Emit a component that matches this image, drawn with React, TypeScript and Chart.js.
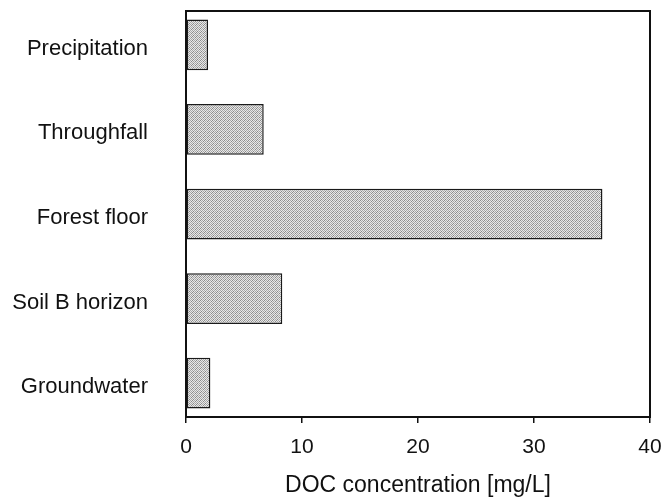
import React, { useEffect, useRef } from "react";
import { Chart, registerables } from "chart.js";

Chart.register(...registerables);

const categories = ["Precipitation", "Throughfall", "Forest floor", "Soil B horizon", "Groundwater"];
const docValues = [1.9, 6.7, 35.9, 8.3, 2.1];
const xTicks = [0, 10, 20, 30, 40];
const xTitle = "DOC concentration [mg/L]";

const FONT = "'Liberation Sans', Arial, Helvetica, sans-serif";

function makePattern(): CanvasPattern | string {
  const c = document.createElement("canvas");
  c.width = 4;
  c.height = 4;
  const g = c.getContext("2d");
  if (!g) return "#c4c4c4";
  g.fillStyle = "#e8e8e8";
  g.fillRect(0, 0, 4, 4);
  const dots = [[0, 0], [2, 0], [1, 1], [3, 1], [0, 2], [2, 2], [1, 3], [3, 3]];
  dots.forEach(([x, y], k) => {
    g.fillStyle = k % 3 === 0 ? "#8a8a8a" : "#a8a8a8";
    g.fillRect(x, y, 1, 1);
  });
  const p = g.createPattern(c, "repeat");
  return p || "#c4c4c4";
}

const framePlugin = {
  id: "frame",
  afterDatasetsDraw(chart: any) {
    const { ctx, chartArea } = chart;
    ctx.save();
    ctx.strokeStyle = "#111";
    ctx.lineWidth = 2;
    ctx.strokeRect(chartArea.left, chartArea.top, chartArea.right - chartArea.left, chartArea.bottom - chartArea.top);
    ctx.restore();
  },
};

const Y_MIN = -0.4;
const Y_MAX = 4.4;

export default function App() {
  const ref = useRef<HTMLCanvasElement | null>(null);

  useEffect(() => {
    if (!ref.current) return;
    const pattern = makePattern();
    const chart = new Chart(ref.current, {
      type: "bar",
      data: {
        datasets: [
          {
            data: docValues.map((v, i) => ({ x: v, y: i })),
            backgroundColor: pattern as any,
            borderColor: "#1a1a1a",
            borderWidth: 1.5,
            borderSkipped: false,
            barPercentage: 0.6,
            categoryPercentage: 1,
          },
        ],
      },
      options: {
        indexAxis: "y",
        animation: false,
        responsive: false,
        devicePixelRatio: 1,
        layout: { padding: { top: 11, right: 15, left: 0, bottom: 0 } },
        plugins: { legend: { display: false }, tooltip: { enabled: false } },
        scales: {
          x: {
            type: "linear",
            position: "bottom",
            min: 0,
            max: 40,
            bounds: "data",
            afterBuildTicks: (scale: any) => {
              scale.ticks = xTicks.map((v) => ({ value: v }));
              scale.min = 0;
              scale.max = 40;
            },
            afterFit: (scale: any) => {
              scale.height = 80;
              scale.paddingLeft = 0;
              scale.paddingRight = 0;
            },
            ticks: {
              color: "#111",
              font: { family: FONT, size: 21 },
              padding: 12,
            },
            grid: {
              drawOnChartArea: false,
              drawTicks: true,
              tickLength: 6,
              color: "#111",
              lineWidth: 1.5,
            },
            border: { display: true, color: "#111", width: 2 },
            title: {
              display: true,
              text: xTitle,
              color: "#111",
              font: { family: FONT, size: 23, lineHeight: 1 },
              padding: { top: 0, bottom: 0 },
            },
          },
          y: {
            type: "linear",
            position: "left",
            reverse: true,
            offset: false,
            min: Y_MIN,
            max: Y_MAX,
            bounds: "data",
            afterBuildTicks: (scale: any) => {
              scale.ticks = categories.map((_, i) => ({ value: i }));
              scale.min = Y_MIN;
              scale.max = Y_MAX;
            },
            afterFit: (scale: any) => {
              scale.width = 186;
              scale.paddingTop = 0;
              scale.paddingBottom = 0;
            },
            ticks: {
              color: "#111",
              font: { family: FONT, size: 22 },
              padding: 38,
              labelOffset: 4,
              callback: (v: any) => categories[v as number] ?? "",
            },
            grid: { display: true, drawOnChartArea: false, drawTicks: false, offset: false },
            border: { display: true, color: "#111", width: 2 },
          },
        },
      },
      plugins: [framePlugin],
    });
    return () => chart.destroy();
  }, []);

  return (
    <div style={{ position: "fixed", left: 0, top: 0, width: 665, height: 497, background: "#fff" }}>
      <canvas ref={ref} width={665} height={497} style={{ display: "block" }} />
    </div>
  );
}
